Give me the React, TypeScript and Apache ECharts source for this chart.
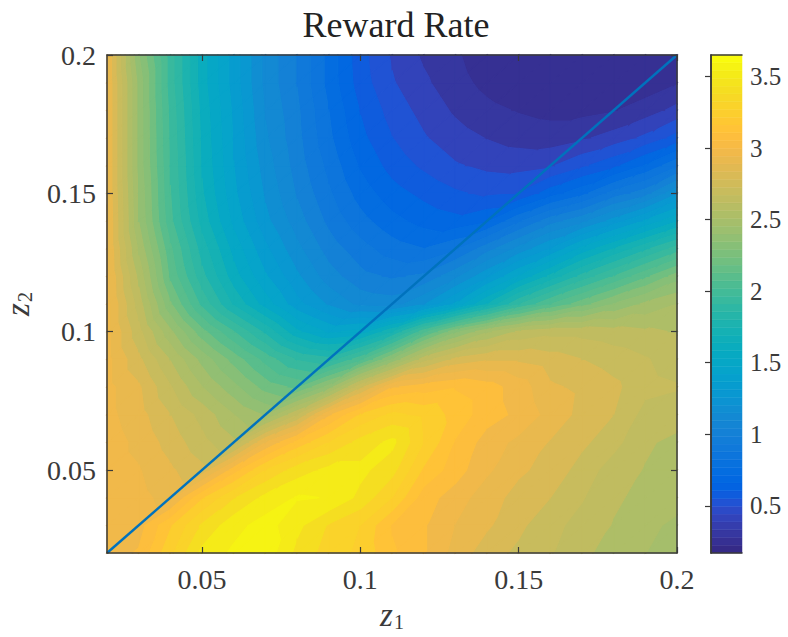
import React, { useEffect, useRef } from "react";
import * as echarts from "echarts";

const z1Values = [0.02,0.03,0.04,0.05,0.06,0.07,0.08,0.09,0.10,0.11,0.12,0.13,0.14,0.15,0.16,0.17,0.18,0.19,0.20];
const z2Values = [0.02,0.03,0.04,0.05,0.06,0.07,0.08,0.09,0.10,0.11,0.12,0.13,0.14,0.15,0.16,0.17,0.18,0.19,0.20];
const xTicks = [0.05, 0.1, 0.15, 0.2];
const yTicks = [0.05, 0.1, 0.15, 0.2];
const barTicks = [0.5, 1, 1.5, 2, 2.5, 3, 3.5];
const barMin = 0.17;
const barMax = 3.65;
const diagonal = [[0.02, 0.02], [0.2, 0.2]];

// rows: z2 from 0.02 upward, columns: z1 from 0.02 rightward
const rewardRate = [
  [3.0,3.05,3.28,3.5,3.58,3.62,3.45,3.35,3.28,3.14,3.05,2.92,2.82,2.76,2.7,2.62,2.58,2.52,2.48],
  [3.0,3.0,3.2,3.4,3.53,3.6,3.5,3.38,3.3,3.12,3.05,2.95,2.88,2.8,2.72,2.66,2.6,2.54,2.5],
  [3.0,2.98,2.92,3.2,3.38,3.5,3.57,3.56,3.45,3.3,3.08,3.0,2.9,2.84,2.78,2.7,2.62,2.58,2.55],
  [3.0,2.96,2.88,2.8,3.08,3.3,3.43,3.5,3.5,3.42,3.2,3.08,2.97,2.88,2.84,2.74,2.65,2.6,2.56],
  [3.0,2.93,2.83,2.72,2.62,2.95,3.15,3.3,3.42,3.5,3.3,3.12,3.0,2.93,2.86,2.8,2.72,2.62,2.58],
  [2.98,2.9,2.78,2.66,2.52,2.42,2.68,3.02,3.22,3.32,3.28,3.18,3.08,3.02,2.92,2.84,2.78,2.66,2.65],
  [2.98,2.88,2.7,2.52,2.37,2.22,2.15,2.38,2.75,3.03,3.08,3.12,3.08,3.0,2.88,2.85,2.8,2.72,2.7],
  [2.98,2.8,2.6,2.4,2.22,2.05,1.9,1.85,2.05,2.35,2.65,2.8,2.85,2.85,2.82,2.78,2.74,2.7,2.65],
  [2.98,2.72,2.45,2.2,2.0,1.8,1.58,1.46,1.5,1.72,2.05,2.32,2.5,2.62,2.66,2.66,2.64,2.62,2.6],
  [2.98,2.65,2.27,1.97,1.72,1.52,1.33,1.2,1.1,1.08,1.2,1.4,1.65,1.9,2.08,2.22,2.35,2.45,2.52],
  [2.97,2.58,2.15,1.85,1.6,1.4,1.23,1.08,0.98,0.94,0.97,1.1,1.28,1.48,1.67,1.85,2.0,2.15,2.3],
  [2.96,2.5,2.1,1.78,1.53,1.32,1.15,1.0,0.9,0.82,0.78,0.85,1.0,1.15,1.3,1.5,1.65,1.8,1.95],
  [2.96,2.43,2.02,1.7,1.45,1.24,1.08,0.93,0.81,0.72,0.66,0.63,0.68,0.85,1.0,1.1,1.25,1.4,1.55],
  [2.95,2.42,2.0,1.66,1.41,1.2,1.03,0.88,0.74,0.64,0.58,0.53,0.5,0.52,0.65,0.75,0.9,1.0,1.2],
  [2.95,2.4,1.99,1.64,1.39,1.17,1.0,0.84,0.68,0.57,0.5,0.44,0.41,0.4,0.42,0.5,0.58,0.7,0.85],
  [2.95,2.4,1.98,1.63,1.38,1.14,0.98,0.8,0.63,0.52,0.44,0.38,0.34,0.31,0.3,0.33,0.38,0.45,0.55],
  [2.95,2.4,1.97,1.62,1.37,1.12,0.97,0.78,0.6,0.48,0.4,0.33,0.28,0.25,0.23,0.23,0.25,0.3,0.37],
  [2.95,2.4,1.95,1.6,1.35,1.1,0.95,0.75,0.56,0.44,0.36,0.29,0.23,0.19,0.18,0.18,0.19,0.2,0.25],
  [2.95,2.35,1.95,1.6,1.35,1.1,0.95,0.75,0.55,0.42,0.33,0.27,0.2,0.17,0.17,0.17,0.18,0.2,0.22],
];

const parula = [
  [0.2081,0.1663,0.5292],[0.2116,0.1898,0.5777],[0.2123,0.2138,0.627],[0.2081,0.2386,0.6771],
  [0.1959,0.2645,0.7279],[0.1707,0.2919,0.7792],[0.1253,0.3242,0.8303],[0.0591,0.3598,0.8683],
  [0.0117,0.3875,0.882],[0.006,0.4086,0.8828],[0.0165,0.4266,0.8786],[0.0329,0.443,0.872],
  [0.0498,0.4586,0.8641],[0.0629,0.4737,0.8554],[0.0723,0.4887,0.8467],[0.0779,0.504,0.8384],
  [0.0793,0.52,0.8312],[0.0749,0.5375,0.8263],[0.0641,0.557,0.824],[0.0488,0.5772,0.8228],
  [0.0343,0.5966,0.8199],[0.0265,0.6137,0.8135],[0.0239,0.6287,0.8038],[0.0231,0.6418,0.7913],
  [0.0228,0.6535,0.7767],[0.0267,0.6642,0.7607],[0.0384,0.6743,0.7436],[0.059,0.6838,0.7254],
  [0.0843,0.6928,0.7062],[0.1133,0.7015,0.6859],[0.1453,0.7098,0.6646],[0.1801,0.7177,0.6424],
  [0.2178,0.725,0.6193],[0.2586,0.7317,0.5954],[0.3022,0.7376,0.5712],[0.3482,0.7424,0.5473],
  [0.3953,0.7459,0.5244],[0.442,0.7481,0.5033],[0.4871,0.7491,0.484],[0.53,0.7491,0.4661],
  [0.5709,0.7485,0.4494],[0.6099,0.7473,0.4337],[0.6473,0.7456,0.4188],[0.6834,0.7435,0.4044],
  [0.7184,0.7411,0.3905],[0.7525,0.7384,0.3768],[0.7858,0.7356,0.3633],[0.8185,0.7327,0.3498],
  [0.8508,0.7299,0.336],[0.8824,0.7274,0.3217],[0.9139,0.7258,0.3063],[0.945,0.7261,0.2886],
  [0.9739,0.7314,0.2666],[0.9938,0.7455,0.2403],[0.999,0.7653,0.2164],[0.9955,0.7861,0.1967],
  [0.988,0.8066,0.1794],[0.9789,0.8271,0.1633],[0.9697,0.8481,0.1475],[0.9626,0.8705,0.1309],
  [0.9589,0.8949,0.1132],[0.9598,0.9218,0.0948],[0.9661,0.9514,0.0755],[0.9763,0.9831,0.0538],
];

const BAND_COUNT = 40;
const SERIF = '"Liberation Serif", "Times New Roman", serif';
const INK = "#3a3a3a";

function paletteColor(t: number) {
  const idx = Math.min(parula.length - 1, Math.max(0, Math.round(t * (parula.length - 1))));
  const c = parula[idx];
  return `rgb(${Math.round(c[0] * 255)},${Math.round(c[1] * 255)},${Math.round(c[2] * 255)})`;
}

type V = [number, number, number];

function clip(poly: V[], level: number, keepAbove: boolean): V[] {
  const out: V[] = [];
  for (let i = 0; i < poly.length; i++) {
    const a = poly[i];
    const b = poly[(i + 1) % poly.length];
    const ina = keepAbove ? a[2] >= level : a[2] <= level;
    const inb = keepAbove ? b[2] >= level : b[2] <= level;
    if (ina) out.push(a);
    if (ina !== inb) {
      const t = (level - a[2]) / (b[2] - a[2]);
      out.push([a[0] + (b[0] - a[0]) * t, a[1] + (b[1] - a[1]) * t, level]);
    }
  }
  return out;
}

function contourCell(params: any, api: any) {
  const i = api.value(2);
  const j = api.value(3);
  const corner = (ci: number, cj: number): V => {
    const p = api.coord([z1Values[ci], z2Values[cj]]);
    return [p[0], p[1], rewardRate[cj][ci]];
  };
  const a = corner(i, j);
  const b = corner(i + 1, j);
  const c = corner(i + 1, j + 1);
  const d = corner(i, j + 1);
  const children: any[] = [];
  const step = (barMax - barMin) / BAND_COUNT;
  for (const tri of [[a, b, c], [a, c, d]] as V[][]) {
    const vs = tri.map((p) => p[2]);
    const lo = Math.max(0, Math.floor((Math.min(...vs) - barMin) / step));
    const hi = Math.min(BAND_COUNT - 1, Math.floor((Math.max(...vs) - barMin) / step));
    for (let k = lo; k <= hi; k++) {
      const l0 = barMin + k * step;
      let poly = clip(tri, l0, true);
      if (poly.length) poly = clip(poly, l0 + step, false);
      if (poly.length < 3) continue;
      const fill = paletteColor((k + 0.5) / BAND_COUNT);
      children.push({
        type: "polygon",
        shape: { points: poly.map((p) => [p[0], p[1]]) },
        style: { fill, stroke: fill, lineWidth: 1.2 },
        silent: true,
      });
    }
  }
  return { type: "group", children };
}

function barStep(params: any, api: any) {
  const idx = api.value(1);
  const s = (barMax - barMin) / parula.length;
  const p0 = api.coord([0, barMin + idx * s]);
  const p1 = api.coord([1, barMin + (idx + 1) * s]);
  const fill = paletteColor(idx / (parula.length - 1));
  return {
    type: "rect",
    shape: { x: p0[0], y: p1[1], width: p1[0] - p0[0], height: p0[1] - p1[1] },
    style: { fill, stroke: fill, lineWidth: 0.5 },
    silent: true,
  };
}

const zLabelRich = {
  z: { fontFamily: SERIF, fontStyle: "italic", fontSize: 33, color: INK },
  s: { fontFamily: SERIF, fontSize: 20, color: INK, verticalAlign: "bottom", padding: [14, 0, 0, 1] },
};

export default function App() {
  const ref = useRef<HTMLDivElement>(null);
  useEffect(() => {
    const chart = echarts.init(ref.current!, undefined, { renderer: "svg" });
    const cells: number[][] = [];
    for (let j = 0; j < z2Values.length - 1; j++) {
      for (let i = 0; i < z1Values.length - 1; i++) {
        cells.push([z1Values[i], z2Values[j], i, j]);
      }
    }
    const tickFmt = (v: number) => String(+v.toFixed(3));
    const baseAxis = {
      type: "value",
      min: 0.02,
      max: 0.2,
      z: 10,
      splitLine: { show: false },
      axisLine: { show: true, onZero: false, lineStyle: { color: INK, width: 1.5 } },
    };
    const tickStyle = { inside: true, length: 6, lineStyle: { color: INK, width: 1.2 } };
    chart.setOption({
      animation: false,
      backgroundColor: "#ffffff",
      title: {
        text: "Reward Rate",
        left: 391,
        top: 2,
        textAlign: "center",
        textStyle: { fontFamily: SERIF, fontWeight: "normal", fontSize: 36, color: "#222" },
      },
      grid: [
        { left: 107, top: 55, width: 570, height: 498, outerBoundsMode: "none", containLabel: false },
        { left: 711, top: 55, width: 31, height: 498, outerBoundsMode: "none", containLabel: false },
      ],
      xAxis: [
        {
          ...baseAxis,
          gridIndex: 0,
          position: "bottom",
          axisTick: { ...tickStyle, customValues: xTicks },
          axisLabel: { customValues: xTicks, formatter: tickFmt, fontFamily: SERIF, fontSize: 28, color: INK, margin: 12 },
          name: "{z|z}{s|1}",
          nameLocation: "middle",
          nameGap: 45,
          nameTextStyle: { rich: zLabelRich },
        },
        {
          ...baseAxis,
          gridIndex: 0,
          position: "top",
          axisTick: { ...tickStyle, customValues: xTicks },
          axisLabel: { show: false },
        },
        {
          type: "value",
          gridIndex: 1,
          min: 0,
          max: 1,
          position: "bottom",
          z: 10,
          splitLine: { show: false },
          axisTick: { show: false },
          axisLabel: { show: false },
          axisLine: { show: true, lineStyle: { color: INK, width: 1.5 } },
        },
        {
          type: "value",
          gridIndex: 1,
          min: 0,
          max: 1,
          position: "top",
          z: 10,
          splitLine: { show: false },
          axisTick: { show: false },
          axisLabel: { show: false },
          axisLine: { show: true, lineStyle: { color: INK, width: 1.5 } },
        },
      ],
      yAxis: [
        {
          ...baseAxis,
          gridIndex: 0,
          position: "left",
          axisTick: { ...tickStyle, customValues: yTicks },
          axisLabel: { customValues: yTicks, formatter: tickFmt, fontFamily: SERIF, fontSize: 28, color: INK, margin: 11 },
          name: "{z|z}{s|2}",
          nameLocation: "middle",
          nameGap: 72,
          nameRotate: 90,
          nameTextStyle: { rich: zLabelRich },
        },
        {
          ...baseAxis,
          gridIndex: 0,
          position: "right",
          axisTick: { ...tickStyle, customValues: yTicks },
          axisLabel: { show: false },
        },
        {
          type: "value",
          gridIndex: 1,
          min: barMin,
          max: barMax,
          position: "right",
          z: 10,
          splitLine: { show: false },
          axisLine: { show: true, lineStyle: { color: INK, width: 1.5 } },
          axisTick: { inside: true, length: 6, customValues: barTicks, lineStyle: { color: INK, width: 1.2 } },
          axisLabel: { customValues: barTicks, formatter: (v: number) => String(v), fontFamily: SERIF, fontSize: 25, color: INK, margin: 8 },
        },
        {
          type: "value",
          gridIndex: 1,
          min: barMin,
          max: barMax,
          position: "left",
          z: 10,
          splitLine: { show: false },
          axisLine: { show: true, lineStyle: { color: INK, width: 1.5 } },
          axisTick: { show: false },
          axisLabel: { show: false },
        },
      ],
      series: [
        {
          type: "custom",
          name: "Reward Rate",
          xAxisIndex: 0,
          yAxisIndex: 0,
          renderItem: contourCell,
          data: cells,
          encode: { x: 0, y: 1 },
          z: 2,
          silent: true,
        },
        {
          type: "line",
          xAxisIndex: 0,
          yAxisIndex: 0,
          data: diagonal,
          symbol: "none",
          lineStyle: { color: "#0072BD", width: 2.4 },
          z: 3,
          silent: true,
        },
        {
          type: "custom",
          name: "Colorbar",
          xAxisIndex: 2,
          yAxisIndex: 2,
          renderItem: barStep,
          data: parula.map((_, i) => [0, i]),
          encode: { x: 0 },
          z: 2,
          silent: true,
        },
      ],
    });
    return () => chart.dispose();
  }, []);
  return (
    <div
      ref={ref}
      style={{ position: "absolute", left: 0, top: 0, width: 788, height: 637, background: "#fff" }}
    />
  );
}
